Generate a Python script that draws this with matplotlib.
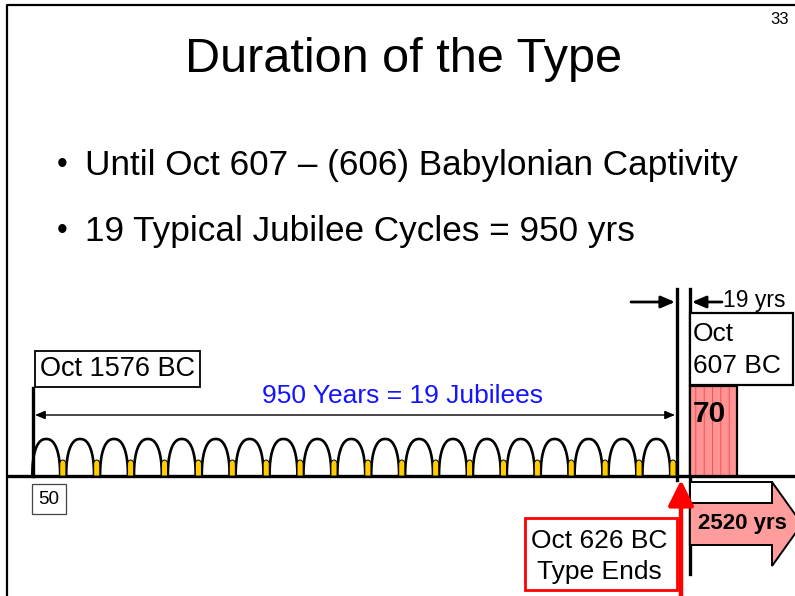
import numpy as np
import matplotlib
matplotlib.use("Agg")
import matplotlib.pyplot as plt
from matplotlib.patches import Rectangle, Polygon

plt.rcParams['font.family'] = ['Liberation Sans', 'DejaVu Sans']
plt.rcParams['hatch.linewidth'] = 0.5

# --- Data ---
title = "Duration of the Type"
bullets = ["Until Oct 607 \u2013 (606) Babylonian Captivity",
           "19 Typical Jubilee Cycles = 950 yrs"]
page_no = "33"
start_bc = 1576          # Oct 1576 BC
cycle_len = 50           # years per jubilee cycle
n_cycles = 19
type_end_bc = start_bc - n_cycles * cycle_len   # 626 BC
captivity_bc = 607
gap_years = type_end_bc - captivity_bc          # 19 yrs
captivity_len = 70
times_len = 2520
span_label = f"{n_cycles * cycle_len} Years = {n_cycles} Jubilees"

# --- Scale: x in years (negative = BC), y in pixels from top ---
W, H = 795, 596
PPY = 644 / (start_bc - type_end_bc)    # pixels per year
X0 = -start_bc - 33 / PPY
X1 = X0 + W / PPY

def px(x):
    # layout helper: pixel column -> axis x
    return X0 + x / PPY

fig = plt.figure(figsize=(W / 100, H / 100), dpi=100)
ax = fig.add_axes([0, 0, 1, 1])
ax.set_xlim(X0, X1)
ax.set_ylim(H, 0)
ax.axis("off")

# slide frame
ax.plot([px(7), px(7), X1], [H, 5, 5], color="black", lw=1.6, solid_capstyle="butt")
ax.text(px(789), 19, page_no, fontsize=12, ha="right", va="center")

# title and bullets
ax.text(px(404), 60, title, fontsize=35, ha="center", va="center")
for i, b in enumerate(bullets):
    y = 165 + i * 66
    ax.text(px(62), y, "\u2022", fontsize=22, ha="center", va="center")
    ax.text(px(85), y, b, fontsize=25.3, ha="left", va="center")

base_y = 476

# base line
ax.plot([px(7), X1], [base_y, base_y], color="black", lw=2.4, solid_capstyle="butt")

# start marker
ax.plot([-start_bc, -start_bc], [388, base_y], color="black", lw=2.4)
ax.text(-start_bc + 7 / PPY, 369, f"Oct {start_bc} BC", fontsize=19.5, ha="left", va="center",
        bbox=dict(boxstyle="square,pad=0.2", fc="white", ec="black", lw=1.3))

# span arrow and label
ax.annotate("", xy=(-type_end_bc - 2 / PPY, 415), xytext=(-start_bc + 2 / PPY, 415),
            arrowprops=dict(arrowstyle="<|-|>,head_length=0.6,head_width=0.25",
                            color="black", lw=1.0, shrinkA=0, shrinkB=0, mutation_scale=10))
ax.text(px(403), 396, span_label, fontsize=19, color="#1414ff",
        ha="center", va="center")

# jubilee arches with yellow jubilee years
t = np.linspace(0, np.pi, 60)
for i in range(n_cycles):
    s = -start_bc + i * cycle_len
    left, right = s - 1, s + 40
    c, a = (left + right) / 2, (right - left) / 2
    ct = np.cos(t)
    xs = c + a * np.sign(ct) * np.abs(ct) ** 0.85
    ys = base_y - 37 * np.sin(t) ** 0.85
    ax.plot(xs, ys, color="black", lw=1.9)
    # yellow piece
    yl, yr = s + 39.5, s + 48.5
    tt = np.linspace(0, np.pi, 20)
    yx = np.concatenate([[yl], (yl + yr) / 2 - (yr - yl) / 2 * np.cos(tt), [yr]])
    yy = np.concatenate([[base_y], 464 - 4 * np.sin(tt), [base_y]])
    ax.fill(yx, yy, facecolor="#ffcc00", edgecolor="black", lw=0.7, zorder=3)

# cycle end / captivity start lines
ax.plot([-type_end_bc, -type_end_bc], [289, 480], color="black", lw=2.4)
ax.plot([-captivity_bc, -captivity_bc], [289, 574], color="black", lw=2.4)

# 19 yrs gap arrows
ax.annotate("", xy=(-type_end_bc - 2 / PPY, 302), xytext=(px(631), 302),
            arrowprops=dict(arrowstyle="-|>,head_length=0.7,head_width=0.3", color="black",
                            lw=2.0, shrinkA=0, shrinkB=0, mutation_scale=12))
ax.annotate("", xy=(-captivity_bc + 2 / PPY, 302), xytext=(px(722), 302),
            arrowprops=dict(arrowstyle="-|>,head_length=0.7,head_width=0.3", color="black",
                            lw=2.0, shrinkA=0, shrinkB=0, mutation_scale=12))
ax.text(px(723), 300, f"{gap_years} yrs", fontsize=16.5, ha="left", va="center")

# Oct 607 BC box
ax.add_patch(Rectangle((-captivity_bc, 313), px(793) + captivity_bc, 72,
                       fc="white", ec="black", lw=1.6, zorder=2))
ax.text(-captivity_bc + 3 / PPY, 334, "Oct", fontsize=19, ha="left", va="center", zorder=3)
ax.text(-captivity_bc + 3 / PPY, 366, f"{captivity_bc} BC", fontsize=19, ha="left", va="center", zorder=3)

# 70 years captivity box
ax.add_patch(Rectangle((-captivity_bc, 386), captivity_len, base_y - 386,
                       fc="#ff9494", ec="#ff3030", hatch="||", lw=0, zorder=2))
ax.add_patch(Rectangle((-captivity_bc, 386), captivity_len, base_y - 386,
                       fc="none", ec="black", lw=1.6, zorder=3))
ax.text(-captivity_bc + 3 / PPY, 414, str(captivity_len), fontsize=21.5, fontweight="bold",
        ha="left", va="center", zorder=4)

# 2520 yrs arrow
sx, hx, tip = -captivity_bc, px(772), px(802)
arrow_x = [sx, hx, hx, tip, hx, hx, sx]
arrow_y = [503, 503, 482, 524, 566, 545, 545]
ax.add_patch(Polygon(np.column_stack([arrow_x, arrow_y]), closed=True,
                     fc="#ff9c9c", ec="black", lw=1.4, zorder=2))
ax.add_patch(Rectangle((sx, 482), hx - sx, 21, fc="white", ec="black", lw=1.4, zorder=2))
ax.text(px(742), 523, f"{times_len} yrs", fontsize=16, fontweight="bold",
        ha="center", va="center", zorder=3)

# 50 box
ax.text(px(49), 499, str(cycle_len), fontsize=13.5, ha="center", va="center",
        bbox=dict(boxstyle="square,pad=0.35", fc="white", ec="#444444", lw=0.9))

# type ends label and red arrow
ax.add_patch(Rectangle((px(525), 518), px(677) - px(525), 72, fc="white", ec="#ff0000",
                       lw=2.0, zorder=2))
ax.text(px(599), 541, f"Oct {type_end_bc} BC", fontsize=19, ha="center", va="center", zorder=3)
ax.text(px(599), 572, "Type Ends", fontsize=19, ha="center", va="center", zorder=3)
ax.annotate("", xy=(px(681), 480), xytext=(px(681), H + 2),
            arrowprops=dict(arrowstyle="-|>,head_length=1.1,head_width=0.55", color="#ff0000",
                            lw=3.2, shrinkA=0, shrinkB=0, mutation_scale=14), zorder=4)

fig.savefig("out.png", dpi=100)
